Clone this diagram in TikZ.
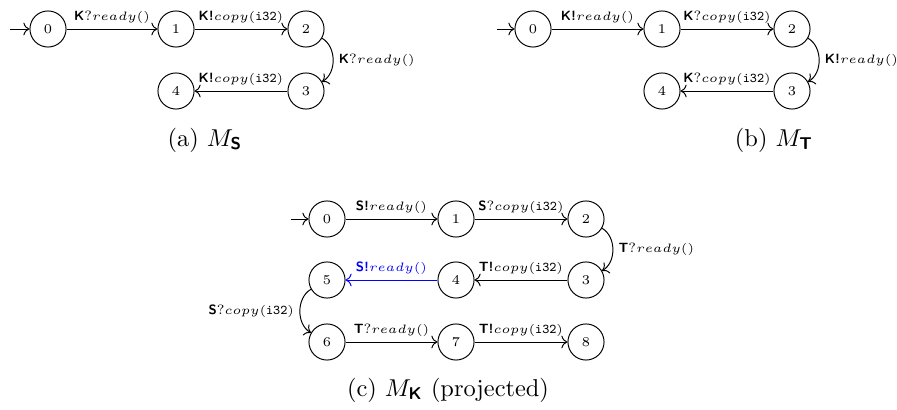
\documentclass[tikz,border=0pt]{standalone}
\usepackage{amsmath}
\usetikzlibrary{arrows.meta}
\newcommand{\lbl}{\fontsize{5.5}{6.5}\selectfont}
\newcommand{\snd}[1]{\textsf{\textbf{#1!}}}
\newcommand{\rcv}[1]{\textsf{\textbf{#1}}?}
\newcommand{\rdy}{$ready()$}
\newcommand{\cpy}{$copy(\texttt{i32})$}
\newcommand{\role}[1]{\text{\textsf{\textbf{#1}}}}
\begin{document}
\begin{tikzpicture}[x=0.41pt,y=0.41pt,
  state/.style={circle,draw,line width=0.4pt,minimum size=14.8pt,inner sep=0pt,font=\lbl},
  tr/.style={->,line width=0.4pt},
  lab/.style={font=\lbl,inner sep=2.2pt},
  captext/.style={font=\normalsize}]
\useasboundingbox (0,0) rectangle (897,-410);
% (a)
\node[state] (a0) at (48,-29) {0};
\node[state] (a1) at (176,-29) {1};
\node[state] (a2) at (306,-29) {2};
\node[state] (a3) at (306,-91) {3};
\node[state] (a4) at (176,-91) {4};
\coordinate (ai) at (10,-29);
\draw[tr] (ai) -- (a0);
\draw[tr] (a0) -- node[lab,above] {\rcv{K}\rdy} (a1);
\draw[tr] (a1) -- node[lab,above] {\snd{K}\cpy} (a2);
\draw[tr] (a2) to[out=-30,in=30] node[lab,right] {\rcv{K}\rdy} (a3);
\draw[tr] (a3) -- node[lab,above] {\snd{K}\cpy} (a4);
\node[captext] (capa) at (205,-140) {(a) $M_{\role{S}}$};
% (b)
\node[state] (b0) at (533,-29) {0};
\node[state] (b1) at (662,-29) {1};
\node[state] (b2) at (792,-29) {2};
\node[state] (b3) at (792,-91) {3};
\node[state] (b4) at (662,-91) {4};
\coordinate (bi) at (497,-29);
\draw[tr] (bi) -- (b0);
\draw[tr] (b0) -- node[lab,above] {\snd{K}\rdy} (b1);
\draw[tr] (b1) -- node[lab,above] {\rcv{K}\cpy} (b2);
\draw[tr] (b2) to[out=-30,in=30] node[lab,right] {\snd{K}\rdy} (b3);
\draw[tr] (b3) -- node[lab,above] {\rcv{K}\cpy} (b4);
\node[captext] (capb) at (774,-140) {(b) $M_{\role{T}}$};
% (c)
\node[state] (c0) at (327,-219) {0};
\node[state] (c1) at (456,-219) {1};
\node[state] (c2) at (586,-219) {2};
\node[state] (c3) at (586,-280) {3};
\node[state] (c4) at (456,-280) {4};
\node[state] (c5) at (327,-280) {5};
\node[state] (c6) at (327,-342) {6};
\node[state] (c7) at (456,-342) {7};
\node[state] (c8) at (586,-342) {8};
\coordinate (ci) at (291,-219);
\draw[tr] (ci) -- (c0);
\draw[tr] (c0) -- node[lab,above] {\snd{S}\rdy} (c1);
\draw[tr] (c1) -- node[lab,above] {\rcv{S}\cpy} (c2);
\draw[tr] (c2) to[out=-30,in=30] node[lab,right] {\rcv{T}\rdy} (c3);
\draw[tr] (c3) -- node[lab,above] {\snd{T}\cpy} (c4);
\draw[tr,blue] (c4) -- node[lab,above,text=blue] {\snd{S}\rdy} (c5);
\draw[tr] (c5) to[out=210,in=150] node[lab,left] {\rcv{S}\cpy} (c6);
\draw[tr] (c6) -- node[lab,above] {\rcv{T}\rdy} (c7);
\draw[tr] (c7) -- node[lab,above] {\snd{T}\cpy} (c8);
\node[captext] (capc) at (448,-390) {(c) $M_{\role{K}}$ (projected)};
\end{tikzpicture}
\end{document}
